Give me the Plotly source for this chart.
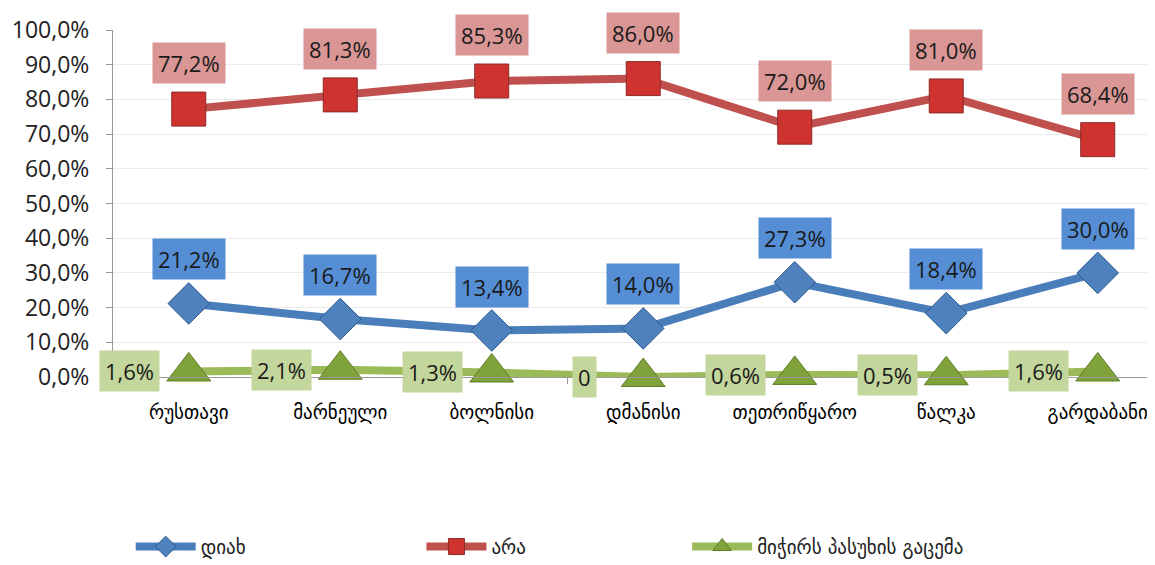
import plotly.graph_objects as go

# რაიონები
raionebi = ["რუსთავი", "მარნეული", "ბოლნისი", "დმანისი", "თეთრიწყარო", "წალკა", "გარდაბანი"]

diax = [21.2, 16.7, 13.4, 14.0, 27.3, 18.4, 30.0]
ara = [77.2, 81.3, 85.3, 86.0, 72.0, 81.0, 68.4]
midjirs = [1.6, 2.1, 1.3, 0, 0.6, 0.5, 1.6]

diax_lbl = ["21,2%", "16,7%", "13,4%", "14,0%", "27,3%", "18,4%", "30,0%"]
ara_lbl = ["77,2%", "81,3%", "85,3%", "86,0%", "72,0%", "81,0%", "68,4%"]
midjirs_lbl = ["1,6%", "2,1%", "1,3%", "0", "0,6%", "0,5%", "1,6%"]

seriebi = ["დიახ", "არა", "მიჭირს პასუხის გაცემა"]

fig = go.Figure()

fig.add_trace(go.Scatter(x=raionebi, y=diax, name=seriebi[0], mode="lines+markers",
                         line=dict(color="#4A7EBB", width=8),
                         marker=dict(symbol="diamond", size=32, color="#4F81BD",
                                     line=dict(color="#2C5A8F", width=1)),
                         cliponaxis=False, legend="legend", showlegend=True))
fig.add_trace(go.Scatter(x=raionebi, y=ara, name=seriebi[1], mode="lines+markers",
                         line=dict(color="#C0504D", width=8),
                         marker=dict(symbol="square", size=34, color="#CF3330",
                                     line=dict(color="#8C2A28", width=1)),
                         cliponaxis=False, legend="legend2"))
fig.add_trace(go.Scatter(x=raionebi, y=midjirs, name=seriebi[2], mode="lines+markers",
                         line=dict(color="#9BBB59", width=8),
                         marker=dict(symbol="triangle-up", size=38, color="#7FA33A",
                                     line=dict(color="#5E7D26", width=1)),
                         cliponaxis=False, legend="legend3"))

# მონაცემთა ნიშნულები
lbl_font = dict(family="Open Sans, sans-serif", size=22, color="#1a1a1a")
for i, r in enumerate(raionebi):
    fig.add_annotation(x=r, y=ara[i], text=ara_lbl[i], showarrow=False, yshift=46,
                       bgcolor="#D99694", font=lbl_font, borderpad=5)
    fig.add_annotation(x=r, y=diax[i], text=diax_lbl[i], showarrow=False, yshift=44,
                       bgcolor="#558ED5", font=lbl_font, borderpad=5)
    fig.add_annotation(x=r, y=midjirs[i], text=midjirs_lbl[i], showarrow=False, xshift=-59,
                       bgcolor="#C3D69B", font=lbl_font, borderpad=5)

leg_font = dict(family="DejaVu Sans", size=19, color="#222")
leg = dict(orientation="h", yanchor="middle", xanchor="left", y=-0.489,
           font=leg_font, itemwidth=60, bgcolor="rgba(0,0,0,0)")

fig.update_layout(
    width=1155, height=565,
    margin=dict(l=105, r=8, t=22, b=192),
    plot_bgcolor="white", paper_bgcolor="white",
    separators=",.",
    showlegend=True,
    legend=dict(leg, x=0.017),
    legend2=dict(leg, x=0.296),
    legend3=dict(leg, x=0.551),
    xaxis=dict(range=[-0.5, 6.378], showline=True, linecolor="#999", linewidth=1,
               ticks="outside", tickson="boundaries", ticklen=6, tickcolor="#999",
               showgrid=False, automargin=False, ticklabelstandoff=18,
               tickfont=dict(family="DejaVu Sans", size=19, color="#000")),
    yaxis=dict(range=[0, 100], dtick=10, tickformat=".1f", ticksuffix="%",
               showline=True, linecolor="#999", linewidth=1,
               ticks="outside", ticklen=6, tickcolor="#999",
               gridcolor="#EBEBEB", zeroline=False, automargin=False,
               ticklabelstandoff=12,
               tickfont=dict(family="Open Sans, sans-serif", size=23, color="#222")),
)

fig.write_html("out.html")
